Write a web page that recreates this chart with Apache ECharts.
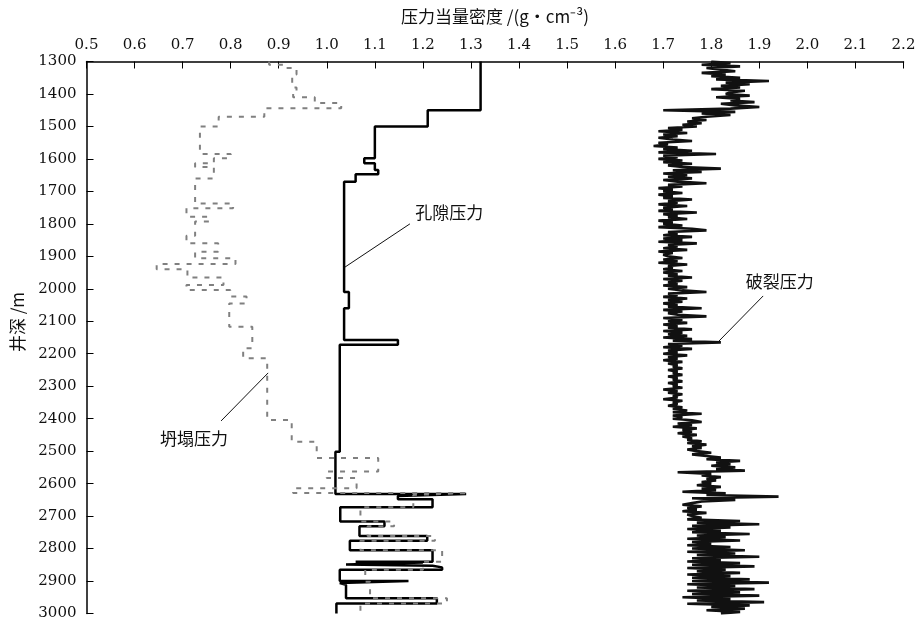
<!DOCTYPE html>
<html>
<head>
<meta charset="utf-8">
<script src="https://cdn.jsdelivr.net/npm/echarts@6/dist/echarts.min.js"></script>
<style>
  html, body { margin: 0; padding: 0; background: #fff; }
  #main { width: 922px; height: 624px; }
</style>
</head>
<body>
<div id="main"></div>
<script>
// depth axis (m) and density axis (g/cm3)
const depthMin = 1300, depthMax = 3000, depthStep = 100;
const densMin = 0.5, densMax = 2.2, densStep = 0.1;

// 孔隙压力: depth where each step starts, and its value
const poreFrom = [1300, 1450, 1500, 1598, 1613, 1634, 1647, 1670, 2010, 2060,
  2158, 2172, 2502, 2632, 2638, 2648, 2673, 2717, 2731, 2761,
  2776, 2805, 2841, 2843, 2849, 2853, 2858, 2865, 2900, 2906,
  2912, 2953, 2969];
const poreValue = [1.32, 1.21, 1.10, 1.078, 1.10, 1.107, 1.06, 1.036, 1.046, 1.036,
  1.148, 1.027, 1.018, 1.29, 1.148, 1.22, 1.028, 1.12, 1.068, 1.209,
  1.048, 1.22, 1.06, 1.20, 1.04, 1.22, 1.24, 1.027, 1.17, 1.027,
  1.04, 1.229, 1.02];

// 坍塌压力
const collapseFrom = [1300, 1310, 1320, 1340, 1380, 1395, 1410, 1428, 1444, 1470,
  1500, 1585, 1598, 1613, 1625, 1660, 1737, 1752, 1778, 1793,
  1837, 1860, 1886, 1906, 1924, 1940, 1965, 1988, 2004, 2024,
  2045, 2117, 2183, 2214, 2404, 2471, 2521, 2563, 2583, 2614,
  2629, 2635, 2673, 2717, 2731, 2761, 2776, 2805, 2841, 2865,
  2902, 2953, 2969];
const collapseValue = [0.88, 0.91, 0.937, 0.928, 0.937, 0.93, 0.975, 1.03, 0.87, 0.775,
  0.736, 0.80, 0.765, 0.726, 0.765, 0.726, 0.805, 0.708, 0.755, 0.726,
  0.708, 0.774, 0.726, 0.81, 0.646, 0.71, 0.785, 0.708, 0.799, 0.833,
  0.797, 0.845, 0.826, 0.876, 0.927, 0.979, 1.107, 1.0, 1.062, 0.93,
  1.295, 1.18, 1.07, 1.14, 1.085, 1.225, 1.07, 1.24, 1.20, 1.08,
  1.09, 1.25, 1.07];

// 破裂压力: one reading every 5 m from 1300 m
const fracTop = 1300, fracStep = 5;
const fracValue = [
  1.80, 1.84, 1.78, 1.86, 1.79, 1.82, 1.85, 1.78, 1.83, 1.80, 1.86, 1.81, 1.92, 1.83, 1.88, 1.82, 1.86, 1.80, 1.87, 1.84,
  1.83, 1.88, 1.81, 1.86, 1.84, 1.89, 1.82, 1.85, 1.90, 1.84, 1.70, 1.85, 1.78, 1.84, 1.79, 1.76, 1.79, 1.75, 1.78, 1.74,
  1.77, 1.71, 1.74, 1.69, 1.75, 1.70, 1.73, 1.69, 1.72, 1.76, 1.69, 1.71, 1.68, 1.73, 1.70, 1.76, 1.69, 1.81, 1.70, 1.73,
  1.69, 1.74, 1.70, 1.76, 1.71, 1.74, 1.82, 1.72, 1.78, 1.70, 1.75, 1.71, 1.76, 1.70, 1.73, 1.79, 1.71, 1.74, 1.69, 1.72,
  1.70, 1.74, 1.69, 1.72, 1.70, 1.76, 1.71, 1.73, 1.69, 1.75, 1.70, 1.72, 1.69, 1.77, 1.70, 1.73, 1.71, 1.75, 1.69, 1.72,
  1.70, 1.74, 1.69, 1.76, 1.79, 1.71, 1.73, 1.70, 1.76, 1.70, 1.74, 1.69, 1.77, 1.71, 1.73, 1.70, 1.75, 1.69, 1.72, 1.70,
  1.71, 1.74, 1.70, 1.73, 1.69, 1.75, 1.71, 1.72, 1.70, 1.74, 1.70, 1.73, 1.71, 1.76, 1.70, 1.74, 1.71, 1.73, 1.70, 1.75,
  1.71, 1.74, 1.79, 1.71, 1.73, 1.70, 1.75, 1.71, 1.74, 1.70, 1.73, 1.71, 1.78, 1.70, 1.74, 1.71, 1.73, 1.79, 1.70, 1.74,
  1.71, 1.75, 1.70, 1.73, 1.71, 1.76, 1.70, 1.74, 1.71, 1.75, 1.70, 1.76, 1.72, 1.82, 1.71, 1.74, 1.70, 1.76, 1.71, 1.73,
  1.70, 1.75, 1.71, 1.73, 1.70, 1.74, 1.71, 1.73, 1.72, 1.74, 1.71, 1.73, 1.72, 1.74, 1.71, 1.73, 1.72, 1.74, 1.71, 1.73,
  1.72, 1.74, 1.70, 1.73, 1.71, 1.74, 1.72, 1.73, 1.70, 1.74, 1.72, 1.73, 1.71, 1.74, 1.72, 1.75, 1.72, 1.78, 1.72, 1.74,
  1.72, 1.76, 1.78, 1.73, 1.76, 1.72, 1.77, 1.74, 1.76, 1.73, 1.77, 1.74, 1.76, 1.75, 1.78, 1.75, 1.79, 1.76, 1.78, 1.75,
  1.77, 1.80, 1.76, 1.79, 1.82, 1.79, 1.86, 1.81, 1.84, 1.80, 1.85, 1.81, 1.87, 1.73, 1.80, 1.78, 1.82, 1.79, 1.81, 1.78,
  1.80, 1.77, 1.82, 1.78, 1.81, 1.74, 1.83, 1.79, 1.94, 1.76, 1.85, 1.78, 1.76, 1.74, 1.78, 1.75, 1.77, 1.74, 1.79, 1.75,
  1.76, 1.78, 1.75, 1.86, 1.77, 1.90, 1.76, 1.84, 1.75, 1.82, 1.76, 1.88, 1.77, 1.83, 1.75, 1.86, 1.76, 1.80, 1.75, 1.84,
  1.76, 1.87, 1.75, 1.85, 1.77, 1.90, 1.76, 1.82, 1.75, 1.86, 1.76, 1.89, 1.75, 1.83, 1.77, 1.86, 1.75, 1.84, 1.76, 1.88,
  1.76, 1.92, 1.75, 1.85, 1.77, 1.89, 1.75, 1.86, 1.76, 1.90, 1.74, 1.84, 1.77, 1.91, 1.75, 1.88, 1.80, 1.87, 1.79, 1.86,
  1.82
];

// labels with a leader line: text anchor, line start, line tip (data coords)
const notes = [
  { text: '孔隙压力', at: [1.184, 1764], from: [1.173, 1800], tip: [1.038, 1933] },
  { text: '坍塌压力', at: [0.653, 2462], from: [0.780, 2407], tip: [0.878, 2259] },
  { text: '破裂压力', at: [1.872, 1979], from: [1.908, 2022], tip: [1.812, 2167] }
];

function toSteps(from, vals, end) {
  const pts = [];
  for (let i = 0; i < from.length; i++) {
    const next = i + 1 < from.length ? from[i + 1] : end;
    pts.push([vals[i], from[i]], [vals[i], next]);
  }
  return pts;
}

const fracData = fracValue.map((v, i) => [v, fracTop + i * fracStep]);
const poreData = toSteps(poreFrom, poreValue, depthMax);
const collapseData = toSteps(collapseFrom, collapseValue, depthMax);

const numFont = 'DejaVu Serif';
const cjkFont = 'Noto Sans CJK SC';

const chart = echarts.init(document.getElementById('main'), null, { renderer: 'canvas' });
const option = {
  backgroundColor: '#fff',
  animation: false,
  textStyle: { fontFamily: numFont },
  grid: { left: 86.5, top: 61.5, right: 18.5, bottom: 10.5, containLabel: false },
  xAxis: {
    type: 'value',
    position: 'top',
    min: densMin,
    max: densMax,
    interval: densStep,
    axisLine: { show: true, lineStyle: { color: '#000', width: 1.5 } },
    axisTick: { show: true, inside: true, length: 7, lineStyle: { color: '#000', width: 1 } },
    axisLabel: {
      margin: 9,
      color: '#111',
      fontFamily: numFont,
      fontSize: 15,
      formatter: v => v.toFixed(1)
    },
    splitLine: { show: false }
  },
  yAxis: {
    type: 'value',
    inverse: true,
    min: depthMin,
    max: depthMax,
    interval: depthStep,
    axisLine: { show: true, lineStyle: { color: '#000', width: 1.5 } },
    axisTick: { show: true, inside: true, length: 7, lineStyle: { color: '#000', width: 1 } },
    axisLabel: {
      margin: 10,
      color: '#111',
      fontFamily: numFont,
      fontSize: 15,
      formatter: v => String(v)
    },
    splitLine: { show: false }
  },
  series: [
    {
      name: '破裂压力',
      type: 'line',
      data: fracData,
      showSymbol: false,
      lineStyle: { color: '#111', width: 2.6 },
      z: 2
    },
    {
      name: '孔隙压力',
      type: 'line',
      data: poreData,
      showSymbol: false,
      lineStyle: { color: '#000', width: 2.5 },
      z: 3
    },
    {
      name: '坍塌压力',
      type: 'line',
      data: collapseData,
      showSymbol: false,
      lineStyle: { color: '#808080', width: 2, type: [5, 7] },
      z: 4
    }
  ]
};
chart.setOption(option);

// titles and leader-line annotations
const graphics = [
  {
    type: 'text',
    x: 495, y: 17,
    style: {
      text: '压力当量密度 /(g·cm⁻³)',
      fontFamily: cjkFont, fontSize: 17, fill: '#111',
      textAlign: 'center', textVerticalAlign: 'middle'
    }
  },
  {
    type: 'text',
    x: 18, y: 322,
    rotation: Math.PI / 2,
    style: {
      text: '井深 /m',
      fontFamily: cjkFont, fontSize: 17, fill: '#111',
      textAlign: 'center', textVerticalAlign: 'middle'
    }
  }
];
notes.forEach(n => {
  const p = chart.convertToPixel({ gridIndex: 0 }, n.at);
  const a = chart.convertToPixel({ gridIndex: 0 }, n.from);
  const b = chart.convertToPixel({ gridIndex: 0 }, n.tip);
  graphics.push({
    type: 'text',
    x: p[0], y: p[1],
    style: {
      text: n.text, fontFamily: cjkFont, fontSize: 17, fill: '#111',
      textAlign: 'left', textVerticalAlign: 'middle'
    }
  });
  graphics.push({
    type: 'line',
    shape: { x1: a[0], y1: a[1], x2: b[0], y2: b[1] },
    style: { stroke: '#111', lineWidth: 1 }
  });
});
chart.setOption({ graphic: graphics });
</script>
</body>
</html>
